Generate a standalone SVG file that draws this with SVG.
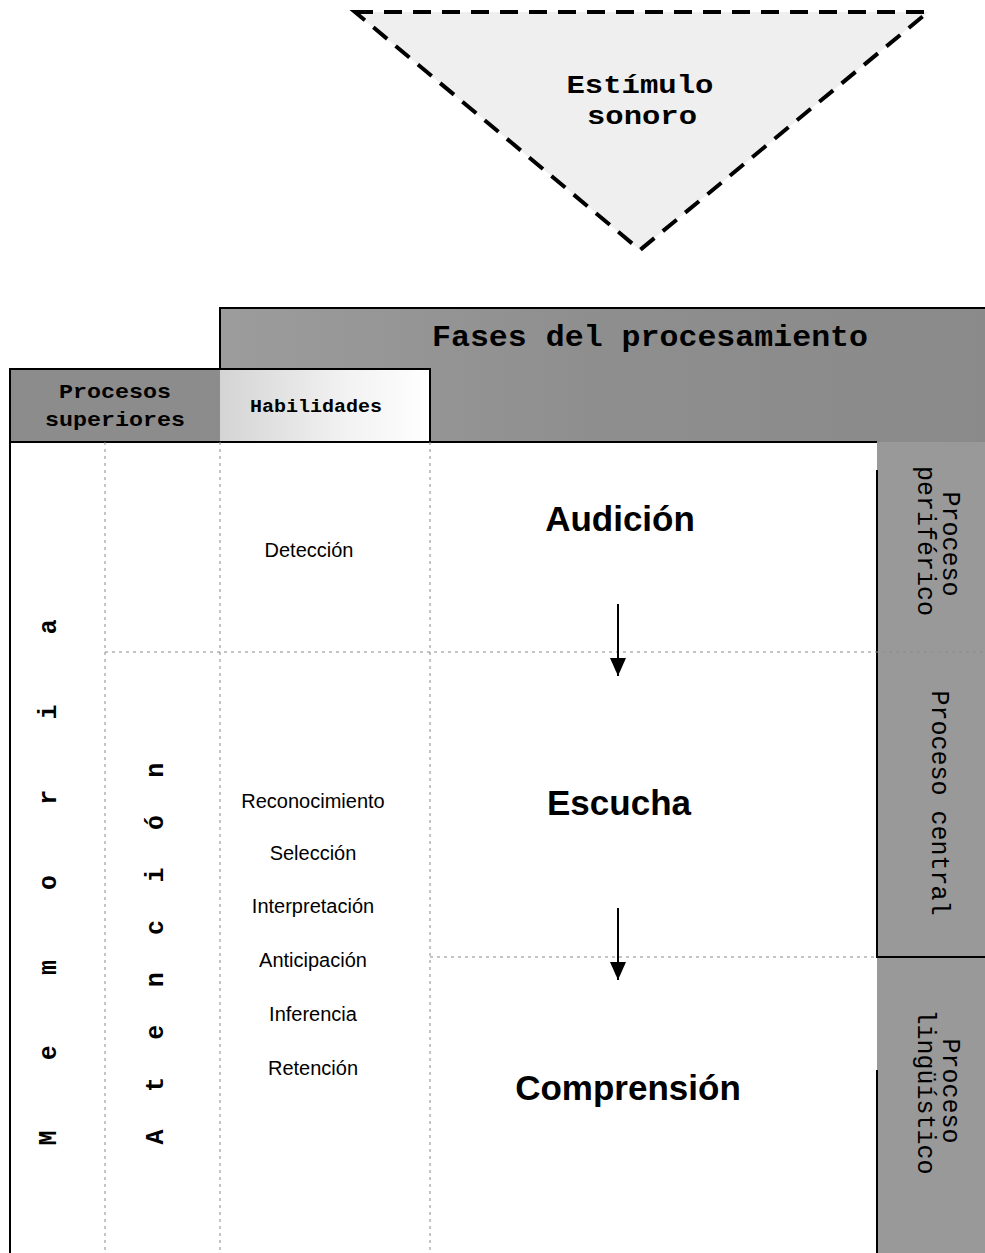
<svg xmlns="http://www.w3.org/2000/svg" width="985" height="1253" viewBox="0 0 985 1253">
<defs>
<style>
.mono{font-family:"Liberation Mono","Courier New",monospace;}
.monob{font-family:"Liberation Mono","Courier New",monospace;font-weight:bold;}
.sans{font-family:"Liberation Sans",Arial,sans-serif;}
.dot{stroke:#8a8a8a;stroke-width:1;stroke-dasharray:3 4;fill:none;}
.edge{stroke:#000;stroke-width:2;fill:none;}
.arrow{stroke:#000;stroke-width:2;fill:none;marker-end:url(#ah);}
</style>
<marker id="ah" markerWidth="18" markerHeight="16" refX="18" refY="8" orient="auto" markerUnits="userSpaceOnUse" viewBox="0 0 18 16">
<path d="M0,0 L18,8 L0,16 Z" fill="#000"/>
</marker>
<linearGradient id="habg" x1="0" y1="0" x2="1" y2="0">
<stop offset="0" stop-color="#d4d4d4"/>
<stop offset="0.6" stop-color="#f2f2f2"/>
<stop offset="1" stop-color="#ffffff"/>
</linearGradient>
<linearGradient id="hdr" x1="0" y1="0" x2="1" y2="0">
<stop offset="0" stop-color="#9c9c9c"/>
<stop offset="0.5" stop-color="#8e8e8e"/>
<stop offset="1" stop-color="#8a8a8a"/>
</linearGradient>
</defs>
<rect width="985" height="1253" fill="#fff"/>

<g id="estimulo">
<polygon points="355,12 928,12 640,250" fill="#efefef" stroke="#000" stroke-width="4" stroke-dasharray="18 11"/>
<text class="monob" x="640" y="93" font-size="25" text-anchor="middle" textLength="147" lengthAdjust="spacingAndGlyphs">Estímulo</text>
<text class="monob" x="642" y="124" font-size="25" text-anchor="middle" textLength="110" lengthAdjust="spacingAndGlyphs">sonoro</text>
</g>

<g id="fases">
<rect x="220" y="308" width="765" height="134" fill="url(#hdr)"/>
<path class="edge" d="M220,442 L220,308 L985,308"/>
<text class="monob" x="432" y="346" font-size="29" textLength="436" lengthAdjust="spacingAndGlyphs">Fases del procesamiento</text>
</g>

<g id="procesos-superiores">
<rect x="10" y="369" width="210" height="73" fill="#8c8c8c"/>
<path class="edge" d="M10,442 L10,369 L220,369"/>
<text class="monob" x="115" y="398" font-size="21" text-anchor="middle" textLength="112" lengthAdjust="spacingAndGlyphs">Procesos</text>
<text class="monob" x="115" y="426" font-size="21" text-anchor="middle" textLength="140" lengthAdjust="spacingAndGlyphs">superiores</text>
</g>

<g id="habilidades">
<rect x="220" y="369" width="210" height="73" fill="url(#habg)"/>
<path class="edge" d="M220,369 L430,369 L430,442"/>
<text class="monob" x="316" y="412" font-size="18" text-anchor="middle" textLength="132" lengthAdjust="spacingAndGlyphs">Habilidades</text>
</g>

<g id="proceso-col">
<rect x="877" y="442" width="108" height="811" fill="#999999"/>
</g>

<g id="grid">
<path class="edge" d="M10,442 L877,442"/>
<path class="edge" d="M10,442 L10,1253"/>
<path class="edge" d="M877,470 L877,957 L985,957"/>
<path class="edge" d="M877,1070 L877,1253"/>
<path class="dot" d="M105,442 L105,1253"/>
<path class="dot" d="M220,442 L220,1253"/>
<path class="dot" d="M430,442 L430,1253"/>
<path class="dot" d="M105,652 L985,652"/>
<path class="dot" d="M430,957 L877,957"/>
</g>

<g id="memoria">
<text class="monob" font-size="25" letter-spacing="70.2" transform="translate(56,1145.5) rotate(-90)">Memoria</text>
</g>
<g id="atencion">
<text class="monob" font-size="25" letter-spacing="37.4" transform="translate(163,1144.5) rotate(-90)">Atención</text>
</g>

<g id="hab-items" class="sans" font-size="20" text-anchor="middle">
<text x="309" y="557">Detección</text>
<text x="313" y="808">Reconocimiento</text>
<text x="313" y="860">Selección</text>
<text x="313" y="913">Interpretación</text>
<text x="313" y="967">Anticipación</text>
<text x="313" y="1021">Inferencia</text>
<text x="313" y="1075">Retención</text>
</g>

<g id="audicion"><text class="sans" x="620" y="531" font-size="35" font-weight="bold" text-anchor="middle">Audición</text></g>
<g id="escucha"><text class="sans" x="619" y="815" font-size="35" font-weight="bold" text-anchor="middle">Escucha</text></g>
<g id="comprension"><text class="sans" x="628" y="1100" font-size="35" font-weight="bold" text-anchor="middle">Comprensión</text></g>

<g id="connectors">
<line class="arrow" x1="618" y1="604" x2="618" y2="676"/>
<line class="arrow" x1="618" y1="908" x2="618" y2="980"/>
</g>

<g id="periferico" class="mono" font-size="25" text-anchor="middle">
<text transform="translate(943,544) rotate(90)">Proceso</text>
<text transform="translate(918,541) rotate(90)">periférico</text>
</g>
<g id="central" class="mono" font-size="25" text-anchor="middle">
<text transform="translate(932,803) rotate(90)">Proceso central</text>
</g>
<g id="linguistico" class="mono" font-size="25" text-anchor="middle">
<text transform="translate(943,1091) rotate(90)">Proceso</text>
<text transform="translate(918,1092) rotate(90)">lingüístico</text>
</g>
</svg>
